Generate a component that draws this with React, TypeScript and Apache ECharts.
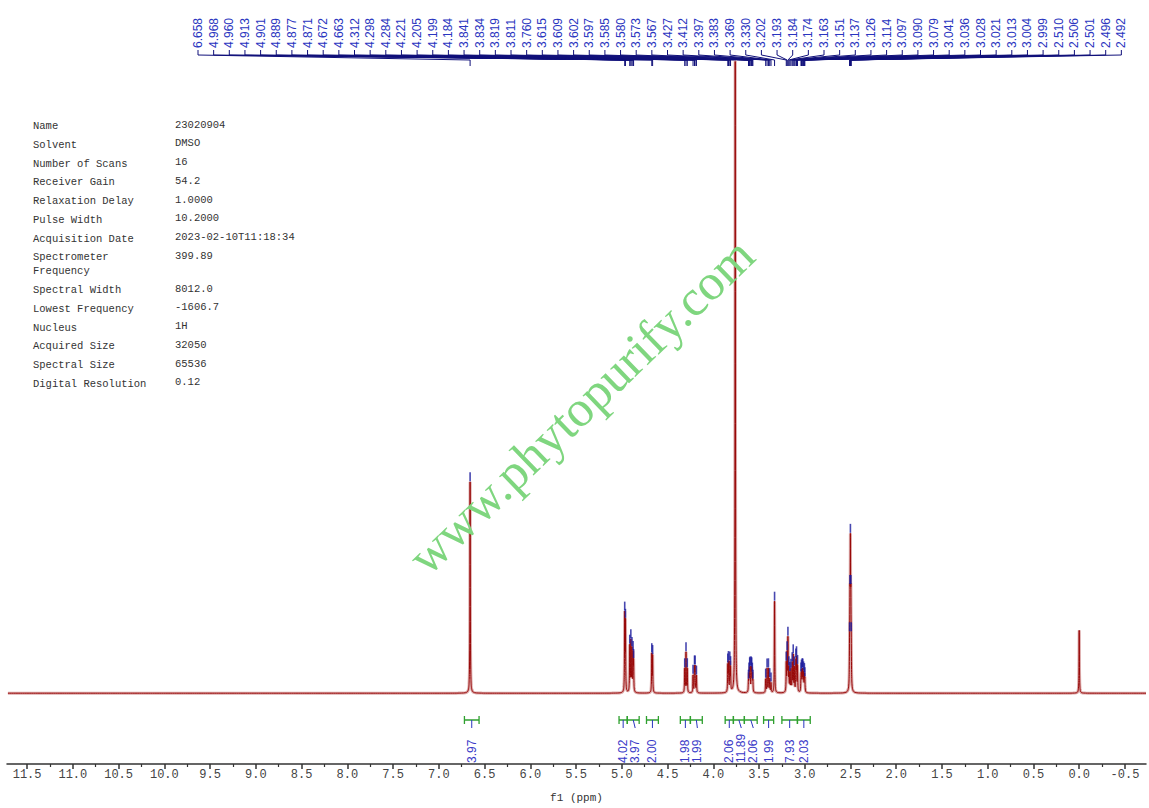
import React, { useEffect, useRef } from "react";
import * as echarts from "echarts";

// ---- Data ----
// labelled peaks (ppm) and their apparent heights above the baseline (chart units)
const peakPpm = [
  6.658, 4.968, 4.96, 4.913, 4.901, 4.889, 4.877, 4.871, 4.672, 4.663,
  4.312, 4.298, 4.284, 4.221, 4.205, 4.199, 4.184, 3.841, 3.834, 3.819,
  3.811, 3.76, 3.615, 3.609, 3.602, 3.597, 3.585, 3.58, 3.573, 3.567,
  3.427, 3.412, 3.397, 3.383, 3.369, 3.33, 3.202, 3.193, 3.184, 3.174,
  3.163, 3.151, 3.137, 3.126, 3.114, 3.097, 3.09, 3.079, 3.041, 3.036,
  3.028, 3.021, 3.013, 3.004, 2.999, 2.51, 2.506, 2.501, 2.496, 2.492,
];
const peakHeight = [
  212, 76, 68, 46, 50, 42, 36, 28, 38, 36,
  24, 40, 24, 18, 24, 24, 17, 26, 28, 28,
  23, 660, 10, 16, 19, 21, 21, 19, 16, 10,
  14, 24, 24, 14, 10, 92, 28, 36, 52, 22,
  18, 22, 28, 36, 24, 30, 32, 26, 16, 18,
  20, 20, 18, 16, 12, 30, 70, 128, 70, 30,
];
const peakLabels = [
  "6.658", "4.968", "4.960", "4.913", "4.901", "4.889", "4.877", "4.871", "4.672", "4.663",
  "4.312", "4.298", "4.284", "4.221", "4.205", "4.199", "4.184", "3.841", "3.834", "3.819",
  "3.811", "3.760", "3.615", "3.609", "3.602", "3.597", "3.585", "3.580", "3.573", "3.567",
  "3.427", "3.412", "3.397", "3.383", "3.369", "3.330", "3.202", "3.193", "3.184", "3.174",
  "3.163", "3.151", "3.137", "3.126", "3.114", "3.097", "3.090", "3.079", "3.041", "3.036",
  "3.028", "3.021", "3.013", "3.004", "2.999", "2.510", "2.506", "2.501", "2.496", "2.492",
];
// unlabelled reference peak (TMS)
const refPeakPpm = [0.0];
const refPeakHeight = [63];

// integrals
const integralFrom = [6.72, 5.03, 4.94, 4.73, 4.36, 4.25, 3.87, 3.78, 3.66, 3.45, 3.25, 3.08];
const integralTo = [6.56, 4.94, 4.81, 4.6, 4.25, 4.12, 3.78, 3.66, 3.52, 3.34, 3.08, 2.94];
const integralValues = ["3.97", "4.02", "3.97", "2.00", "1.98", "1.99", "2.06", "11.89", "2.06", "1.99", "7.93", "2.03"];

// x axis ticks
const xMajorTicks = [11.5, 11, 10.5, 10, 9.5, 9, 8.5, 8, 7.5, 7, 6.5, 6, 5.5, 5, 4.5, 4, 3.5, 3, 2.5, 2, 1.5, 1, 0.5, 0, -0.5];
const xMinorTicks = [11.25, 10.75, 10.25, 9.75, 9.25, 8.75, 8.25, 7.75, 7.25, 6.75, 6.25, 5.75, 5.25, 4.75, 4.25, 3.75, 3.25, 2.75, 2.25, 1.75, 1.25, 0.75, 0.25, -0.25];

// acquisition parameters
const infoLabels = [
  "Name", "Solvent", "Number of Scans", "Receiver Gain", "Relaxation Delay", "Pulse Width",
  "Acquisition Date", "Spectrometer\nFrequency", "Spectral Width", "Lowest Frequency", "Nucleus",
  "Acquired Size", "Spectral Size", "Digital Resolution",
];
const infoValues = [
  "23020904", "DMSO", "16", "54.2", "1.0000", "10.2000", "2023-02-10T11:18:34", "399.89",
  "8012.0", "-1606.7", "1H", "32050", "65536", "0.12",
];

const X_MIN = -0.73;
const X_MAX = 11.72;
const GAMMA = 0.0025;

const allPpm = [...peakPpm, ...refPeakPpm];
const allH = [...peakHeight, ...refPeakHeight];

function intensityAt(x: number) {
  let s = 0;
  for (let i = 0; i < allPpm.length; i++) {
    const d = (x - allPpm[i]) / GAMMA;
    s += allH[i] / (1 + d * d);
  }
  return s;
}

function buildSpectrum() {
  const xs = new Set<number>();
  for (let x = X_MIN; x <= X_MAX; x += 0.02) xs.add(+x.toFixed(4));
  for (const p of allPpm) {
    for (let d = -0.04; d <= 0.0401; d += 0.0005) xs.add(+(p + d).toFixed(4));
    xs.add(p);
  }
  const arr = Array.from(xs).sort((a, b) => a - b);
  return arr.map((x) => [x, intensityAt(x)]);
}

export default function App() {
  const ref = useRef<HTMLDivElement>(null);
  useEffect(() => {
    if (!ref.current) return;
    const chart = echarts.init(ref.current, undefined, { renderer: "svg" });
    const spectrum = buildSpectrum();
    const markers = peakPpm.map((p) => [p, intensityAt(p)]);

    const monoFont = "Liberation Mono";
    chart.setOption({
      animation: false,
      backgroundColor: "#ffffff",
      grid: { left: 7, right: 3, top: 62, bottom: 42 },
      xAxis: [
        {
          type: "value",
          min: X_MIN,
          max: X_MAX,
          inverse: true,
          position: "bottom",
          name: "f1 (ppm)",
          nameLocation: "middle",
          nameGap: 28,
          nameTextStyle: { fontFamily: monoFont, fontSize: 11, color: "#333" },
          axisLine: { show: true, onZero: false, lineStyle: { color: "#333", width: 1.5 } },
          axisTick: { show: true, length: 5, customValues: xMajorTicks, lineStyle: { color: "#333", width: 1.5 } },
          axisLabel: {
            show: true,
            customValues: xMajorTicks,
            margin: 5,
            fontFamily: monoFont,
            fontSize: 12,
            color: "#444",
            formatter: (v: number) => v.toFixed(1),
          },
          splitLine: { show: false },
        },
        {
          type: "value",
          min: X_MIN,
          max: X_MAX,
          inverse: true,
          position: "bottom",
          axisLine: { show: false, onZero: false },
          axisTick: { show: true, length: 3, customValues: xMinorTicks, lineStyle: { color: "#333", width: 1.2 } },
          axisLabel: { show: false },
          splitLine: { show: false },
        },
      ],
      yAxis: { type: "value", min: -71, max: 633, show: false },
      series: [
        {
          type: "line",
          data: spectrum,
          showSymbol: false,
          lineStyle: { color: "#dcaaaa", width: 3 },
          silent: true,
          z: 2,
        },
        {
          type: "line",
          data: spectrum,
          showSymbol: false,
          lineStyle: { color: "#980808", width: 1 },
          silent: true,
          z: 3,
        },
        {
          type: "scatter",
          data: markers,
          symbol: "rect",
          symbolSize: [1.6, 9],
          symbolOffset: [0, -5],
          itemStyle: { color: "#1a1a9c" },
          silent: true,
          z: 4,
        },
      ],
    });

    const px = (ppm: number) => chart.convertToPixel({ xAxisIndex: 0 }, ppm) as number;

    const graphics: any[] = [];
    // top peak labels + connectors
    const labelX0 = 198;
    const labelStep = 15.65;
    peakPpm.forEach((p, i) => {
      const lx = labelX0 + i * labelStep;
      const xp = px(p);
      graphics.push({
        type: "text",
        x: lx,
        y: 48,
        rotation: Math.PI / 2,
        style: {
          text: peakLabels[i],
          fontFamily: "Liberation Sans",
          fontSize: 12,
          fill: "#2a35c0",
          textAlign: "left",
          textVerticalAlign: "middle",
        },
        silent: true,
      });
      graphics.push({
        type: "polyline",
        shape: { points: [[lx, 50], [lx, 55], [xp, 60], [xp, 66]] },
        style: { stroke: "#10107a", lineWidth: 1, fill: null },
        silent: true,
      });
    });

    // integrals
    const yBr = 720;
    let prevX = -1000;
    integralValues.forEach((val, i) => {
      const x1 = px(integralFrom[i]);
      const x2 = px(integralTo[i]);
      const cx = (x1 + x2) / 2;
      let lx = cx;
      if (lx < prevX + 12) lx = prevX + 12;
      prevX = lx;
      graphics.push({
        type: "polyline",
        shape: { points: [[x1, yBr - 4], [x1, yBr + 4], [x1, yBr], [x2, yBr], [x2, yBr - 4], [x2, yBr + 4]] },
        style: { stroke: "#2fa02f", lineWidth: 1.3, fill: null },
        silent: true,
      });
      graphics.push({
        type: "line",
        shape: { x1: cx, y1: yBr, x2: lx, y2: yBr + 8 },
        style: { stroke: "#2a35c0", lineWidth: 1 },
        silent: true,
      });
      graphics.push({
        type: "text",
        x: lx,
        y: 763,
        rotation: Math.PI / 2,
        style: {
          text: val,
          fontFamily: "Liberation Sans",
          fontSize: 12,
          fill: "#3a3ac8",
          textAlign: "left",
          textVerticalAlign: "middle",
        },
        silent: true,
      });
    });

    // acquisition info
    infoLabels.forEach((lab, i) => {
      const y = 125 + i * 18.75 + (i >= 8 ? 14 : 0) - 6;
      graphics.push({
        type: "text",
        x: 33,
        y: y,
        style: {
          text: lab,
          fontFamily: monoFont,
          fontSize: 10.5,
          lineHeight: 14,
          fill: "#333",
          textAlign: "left",
          textVerticalAlign: "top",
        },
        silent: true,
      });
      graphics.push({
        type: "text",
        x: 175,
        y: y,
        style: {
          text: infoValues[i],
          fontFamily: monoFont,
          fontSize: 10.5,
          fill: "#333",
          textAlign: "left",
          textVerticalAlign: "top",
        },
        silent: true,
      });
    });

    // watermark
    graphics.push({
      type: "text",
      x: 581,
      y: 406,
      rotation: (44 * Math.PI) / 180,
      style: {
        text: "www.phytopurify.com",
        fontFamily: "Liberation Serif",
        fontSize: 51,
        fill: "#7fd67f",
        textAlign: "center",
        textVerticalAlign: "middle",
      },
      silent: true,
      z: 10,
    });

    chart.setOption({ graphic: graphics });
    return () => chart.dispose();
  }, []);
  return <div ref={ref} style={{ position: "absolute", left: 0, top: 0, width: 1149, height: 808 }} />;
}
